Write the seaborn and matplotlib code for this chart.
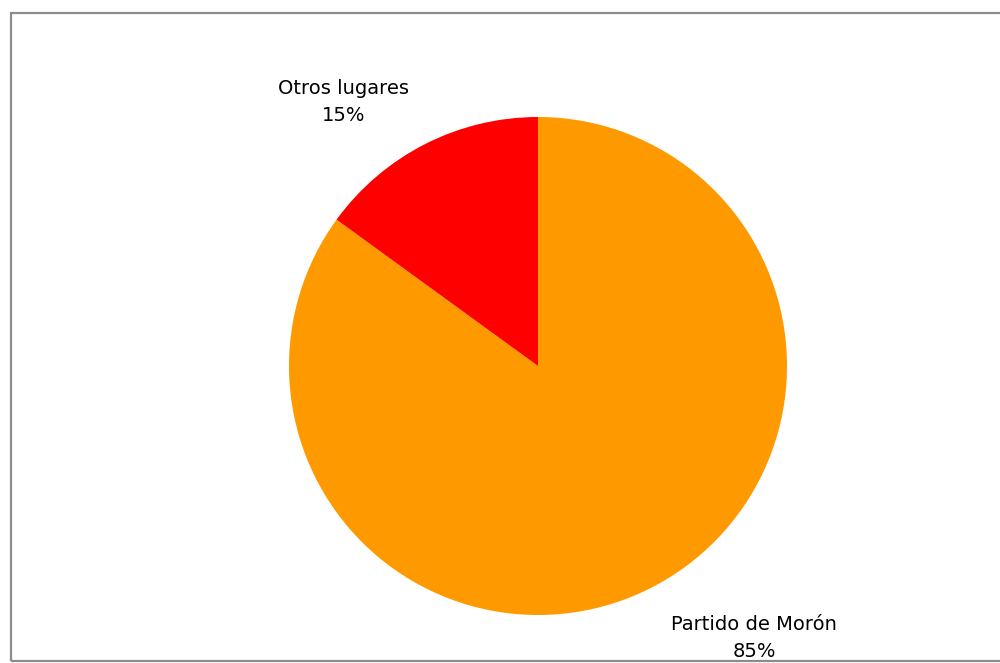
import matplotlib
matplotlib.use("Agg")
import matplotlib.pyplot as plt
from matplotlib.patches import Rectangle
import seaborn as sns

sns.set_theme(style="white")
plt.rcParams["font.family"] = ["DejaVu Sans"]

categories = ["Partido de Morón", "Otros lugares"]
shares = [85, 15]
colors = ["#FF9900", "#FF0000"]

W, H = 1000, 663
fig = plt.figure(figsize=(W / 100, H / 100), dpi=100)
ax = fig.add_axes([0, 0, 1, 1])

cx, cy, r = 538, 297, 249
ax.pie(shares, colors=colors, startangle=90, counterclock=False,
       center=(cx, cy), radius=r, frame=True,
       wedgeprops=dict(linewidth=0))
ax.set_xlim(0, W)
ax.set_ylim(0, H)
ax.set_aspect("equal")
ax.axis("off")

# chart area frame (open on the right), drawn over the labels
ax.add_patch(Rectangle((10.5, 2.0), 1000, 648.5, fill=False,
                       edgecolor="#8c8c8c", linewidth=1.6, zorder=5))

label_pos = {"Partido de Morón": (754, 25), "Otros lugares": (344, 561)}
for name, val in zip(categories, shares):
    x, y = label_pos[name]
    ax.text(x, y, f"{name}\n{val}%", ha="center", va="center",
            fontsize=14, linespacing=1.55, color="#000000", zorder=3)

fig.savefig("out.png", dpi=100)
